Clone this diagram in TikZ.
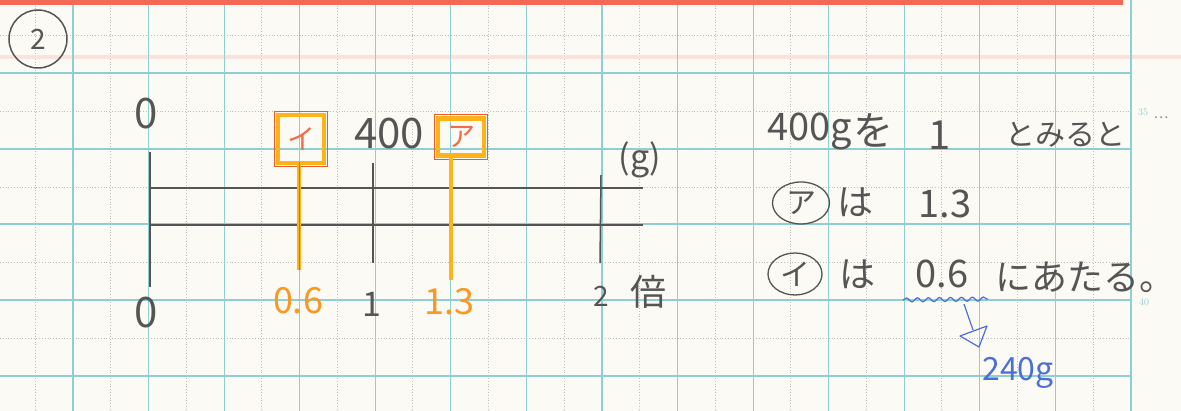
\documentclass[tikz,border=0pt]{standalone}
\usepackage{fontspec}
\newfontfamily\jp{Noto Sans CJK JP}
\usetikzlibrary{decorations.pathmorphing,shapes.geometric}
\definecolor{paper}{HTML}{FCFAF4}
\definecolor{gridc}{HTML}{8FCFD2}
\definecolor{dotc}{HTML}{BDBDBD}
\definecolor{ink}{HTML}{555555}
\definecolor{orng}{HTML}{FFB21A}
\definecolor{redd}{HTML}{EE5A2A}
\definecolor{bluep}{HTML}{4A6FD8}
\definecolor{topred}{HTML}{F26A55}
\definecolor{pinkl}{HTML}{FBE2DC}
\tikzset{
  hand/.style={text=ink, inner sep=0pt, font=\jp\fontsize{#1}{#1}\selectfont},
  hand/.default=40,
  olab/.style={text=orng!70!redd, inner sep=0pt, font=\jp\fontsize{36}{36}\selectfont},
  bluet/.style={text=bluep, inner sep=0pt, font=\jp\fontsize{32}{32}\selectfont},
  axis/.style={draw=ink, line width=1.6pt},
  tickl/.style={draw=ink, line width=1.5pt},
  oline/.style={draw=orng, line width=4.5pt},
  obox/.style={draw=orng, line width=4.5pt, minimum width=46pt, inner sep=0pt, text=redd!80!pink, font=\jp\fontsize{28}{28}\selectfont},
  circ/.style={draw=ink, line width=1.3pt, ellipse, inner sep=0pt, text=ink, font=\jp\fontsize{30}{30}\selectfont},
  margin/.style={text=gridc, inner sep=0pt, font=\fontsize{10}{10}\selectfont}
}
\begin{document}
\begin{tikzpicture}[x=1pt,y=-1pt]
\fill[paper] (0,0) rectangle (1181,411);
\useasboundingbox (0,0) rectangle (1181,411);
% grid
\foreach \i in {0,...,14} \draw[dotc, dotted, line width=0.8pt] ({35+75.57*\i},0) -- ({35+75.57*\i},411);
\foreach \j in {35,111,187,262,338} \draw[dotc, dotted, line width=0.8pt] (0,\j) -- (1132,\j);
\fill[pinkl] (0,55) rectangle (1181,59);
\foreach \i in {0,...,14} \draw[gridc, line width=1.2pt] ({73+75.57*\i},0) -- ({73+75.57*\i},411);
\foreach \j in {73,149,224,300,376} \draw[gridc, line width=1.2pt] (0,\j) -- (1132,\j);
\fill[topred] (0,0) rectangle (1123,5);
\node[margin] (m35) at (1143,112) {35};
\node[margin] (m40) at (1144,302) {40};
% problem number
\node[circ, circle, minimum size=58pt, line width=1.5pt, font=\jp\fontsize{28}{28}\selectfont] (num) at (38,39) {2};
% number line
\coordinate (v0t) at (150,152); \coordinate (v0b) at (150,287);
\coordinate (ht0) at (150,188); \coordinate (ht1) at (643,188);
\coordinate (hb0) at (150,225); \coordinate (hb1) at (643,225);
\coordinate (t1t) at (373,163); \coordinate (t1b) at (373,263);
\coordinate (t2t) at (601,175); \coordinate (t2b) at (600,263);
\coordinate (o06) at (299,270); \coordinate (o13) at (451,280);
\draw[axis] (v0t) -- (v0b);
\draw[axis] (ht0) -- (ht1);
\draw[axis] (hb0) -- (hb1);
\draw[tickl] (t1t) -- (t1b);
\draw[tickl] (t2t) -- (t2b);
\node[obox, minimum height=48pt] (boxI) at (301,139) {イ};
\node[obox, minimum height=37pt] (boxA) at (461,137) {ア};
\draw[redd, line width=0.9pt] ([shift={(-1.5,-1.5)}]boxI.north west) rectangle ([shift={(1.5,1.5)}]boxI.south east);
\draw[redd, line width=0.9pt] ([shift={(-1.5,-1.5)}]boxA.north west) rectangle ([shift={(1.5,1.5)}]boxA.south east);
\draw[oline] (boxI.south -| o06) -- (o06);
\draw[oline] (boxA.south -| o13) -- (o13);
\draw[redd, line width=0.8pt] ([yshift=3]boxI.south -| o06) -- (o06);
% top labels
\node[hand=42] (zt) at (146,114) {0};
\node[hand=42] (l400) at (389,134) {400};
\node[hand=34] (lg) at (640,160) {(g)};
% bottom labels
\node[hand=42] (zb) at (146,313) {0};
\node[olab] (l06) at (298,301) {0.6};
\node[hand=34] (l1) at (372,304) {1};
\node[olab] (l13) at (449,302) {1.3};
\node[hand=28] (l2) at (601,296) {2};
\node[hand=36] (lbai) at (648,292) {倍};
% right text
\node[hand=38, anchor=base] (r400) at (810,141) {400g};
\node[hand=40, anchor=base] (rwo) at (873,146) {を};
\node[hand=40, anchor=base] (rone) at (940,150) {1};
\node[hand=30, anchor=base] (rtomi) at (1065,146) {とみると};
\node[text=ink!70, inner sep=0pt, font=\jp\fontsize{14}{14}\selectfont] (rdots) at (1161,118) {…};
\node[circ, minimum width=57pt, minimum height=42pt] (cA) at (801,203) {ア};
\node[hand=36, anchor=base] (rha1) at (855,216) {は};
\node[hand=38, anchor=base] (r13) at (945,218) {1.3};
\node[circ, minimum width=54pt, minimum height=42pt] (cI) at (795,274) {イ};
\node[hand=36, anchor=base] (rha2) at (857,288) {は};
\node[hand=38, anchor=base] (r06) at (942,288) {0.6};
\node[hand=36, anchor=base] (rata) at (1085,291) {にあたる。};
% wavy underline and arrow
\coordinate (w0) at (903,300); \coordinate (w1) at (988,299);
\draw[bluep, line width=1.2pt, decorate, decoration={snake, amplitude=2pt, segment length=11pt}] (w0) -- (w1);
\coordinate (as) at (964,304); \coordinate (ab) at (973,330); \coordinate (at) at (979,347);
\coordinate (al) at (960,336); \coordinate (ar) at (987,326);
\draw[bluep, line width=1.2pt] (as) -- (ab);
\draw[bluep, line width=1.2pt, line join=round] (al) -- (ar) -- (at) -- cycle;
\node[bluet, anchor=base] (r240) at (1018,381) {240g};
\end{tikzpicture}
\end{document}
